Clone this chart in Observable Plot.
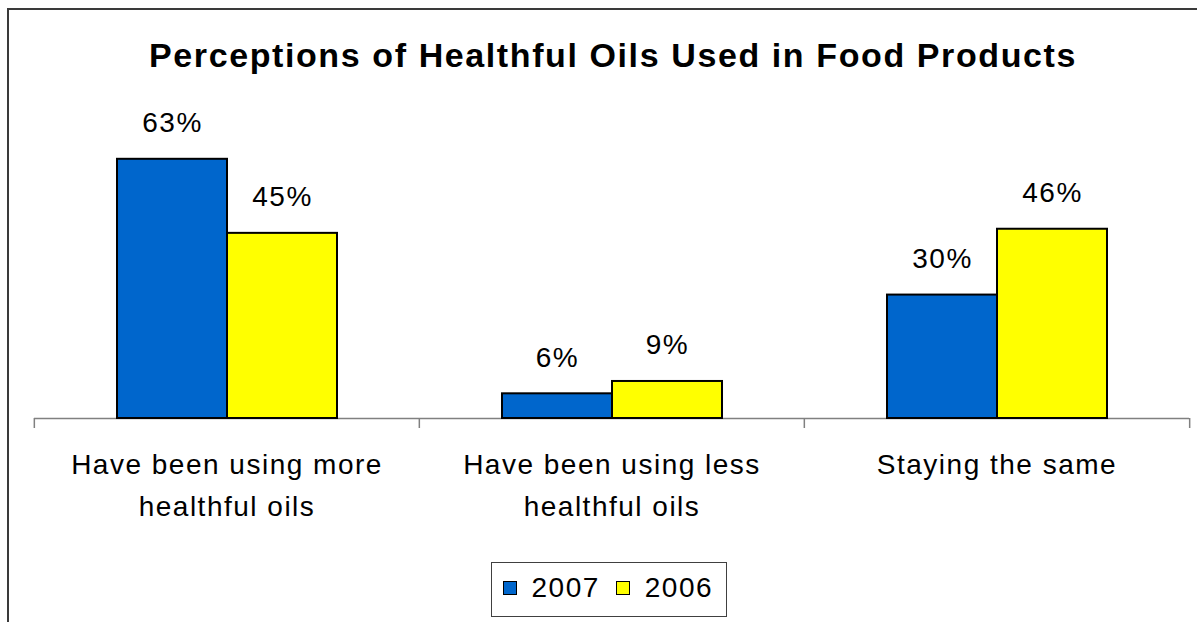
<!DOCTYPE html>
<html>
<head>
<meta charset="utf-8">
<script src="https://cdn.jsdelivr.net/npm/d3@7"></script>
<script src="https://cdn.jsdelivr.net/npm/@observablehq/plot@0.6"></script>
<style>
  body { margin: 0; background: #fff; }
  #wrap { position: relative; width: 1197px; height: 622px; overflow: hidden; font-family: "Liberation Sans", Arial, sans-serif; color: #000; }
  #border { position: absolute; left: 7px; top: 8px; width: 1400px; height: 800px; border-left: 2px solid #3a3a3a; border-top: 2px solid #3a3a3a; }
  #title { position: absolute; left: 33px; width: 1160px; top: 38px; text-align: center; font-weight: bold; font-size: 34px; line-height: 34px; letter-spacing: 1.6px; white-space: nowrap; }
  #chart { position: absolute; left: 0; top: 100px; }
  #legend { position: absolute; left: 491px; top: 562px; width: 236px; height: 55px; box-sizing: border-box; border: 1.5px solid #404040; padding-bottom: 4px; display: flex; align-items: center; font-size: 28px; letter-spacing: 1.5px; background: #fff; }
  .sw { width: 14px; height: 14px; box-sizing: border-box; border: 1.5px solid #000; flex: none; }
  .lt { line-height: 28px; }
</style>
</head>
<body>
<div id="wrap">
  <div id="border"></div>
  <div id="title"></div>
  <div id="chart"></div>
  <div id="legend"></div>
</div>
<script>
const titleText = "Perceptions of Healthful Oils Used in Food Products";
const categories = ["Have been using more healthful oils", "Have been using less healthful oils", "Staying the same"];
const categoryLabels = ["Have been using more\nhealthful oils", "Have been using less\nhealthful oils", "Staying the same"];
const series = ["2007", "2006"];
const values2007 = [63, 6, 30];
const values2006 = [45, 9, 46];
const colors = ["#0066CC", "#FFFF00"];

const data = categories.flatMap((c, i) => [
  {category: c, series: series[0], value: values2007[i]},
  {category: c, series: series[1], value: values2006[i]}
]);

document.getElementById("title").textContent = titleText;

const W = 1197, ML = 33, MR = 8;
const bandHalf = (W - ML - MR) / categories.length / 2;

const chart = Plot.plot({
  width: W,
  height: 440,
  marginLeft: ML,
  marginRight: MR,
  marginTop: 30,
  marginBottom: 122,
  style: {fontFamily: "'Liberation Sans', Arial, sans-serif", fontSize: "28px", letterSpacing: "1.5px", overflow: "visible", color: "#000", background: "transparent"},
  fx: {domain: categories, padding: 0, label: null},
  x: {domain: series, paddingInner: 0, paddingOuter: 0.75, axis: null},
  y: {domain: [0, 70], axis: null},
  color: {domain: series, range: colors},
  marks: [
    Plot.ruleY([0], {stroke: "#808080", strokeWidth: 1.5}),
    Plot.barY(data, {fx: "category", x: "series", y: "value", fill: "series", stroke: "#000", strokeWidth: 2}),
    Plot.text(data, {fx: "category", x: "series", y: "value", text: d => d.value + "%", dy: -36, fontSize: 28, fill: "#000"}),
    Plot.axisFx({anchor: "bottom", tickSize: 0, tickPadding: 26, fontSize: 28, lineHeight: 1.5, label: null,
      tickFormat: d => categoryLabels[categories.indexOf(d)]}),
    Plot.axisFx({anchor: "bottom", tickSize: 10, dx: -bandHalf, label: null, tickFormat: () => "", stroke: "#808080", strokeWidth: 1.5}),
    Plot.axisFx({anchor: "bottom", ticks: [categories[categories.length - 1]], tickSize: 10, dx: bandHalf, label: null, tickFormat: () => "", stroke: "#808080", strokeWidth: 1.5})
  ]
});
document.getElementById("chart").appendChild(chart);

// Legend
const legend = document.getElementById("legend");
const gaps = [[10.5, 15], [16, 15]];
series.forEach((s, i) => {
  const sw = document.createElement("div");
  sw.className = "sw";
  sw.style.background = colors[i];
  sw.style.marginLeft = gaps[i][0] + "px";
  const t = document.createElement("span");
  t.className = "lt";
  t.textContent = s;
  t.style.marginLeft = gaps[i][1] + "px";
  legend.appendChild(sw);
  legend.appendChild(t);
});
</script>
</body>
</html>
